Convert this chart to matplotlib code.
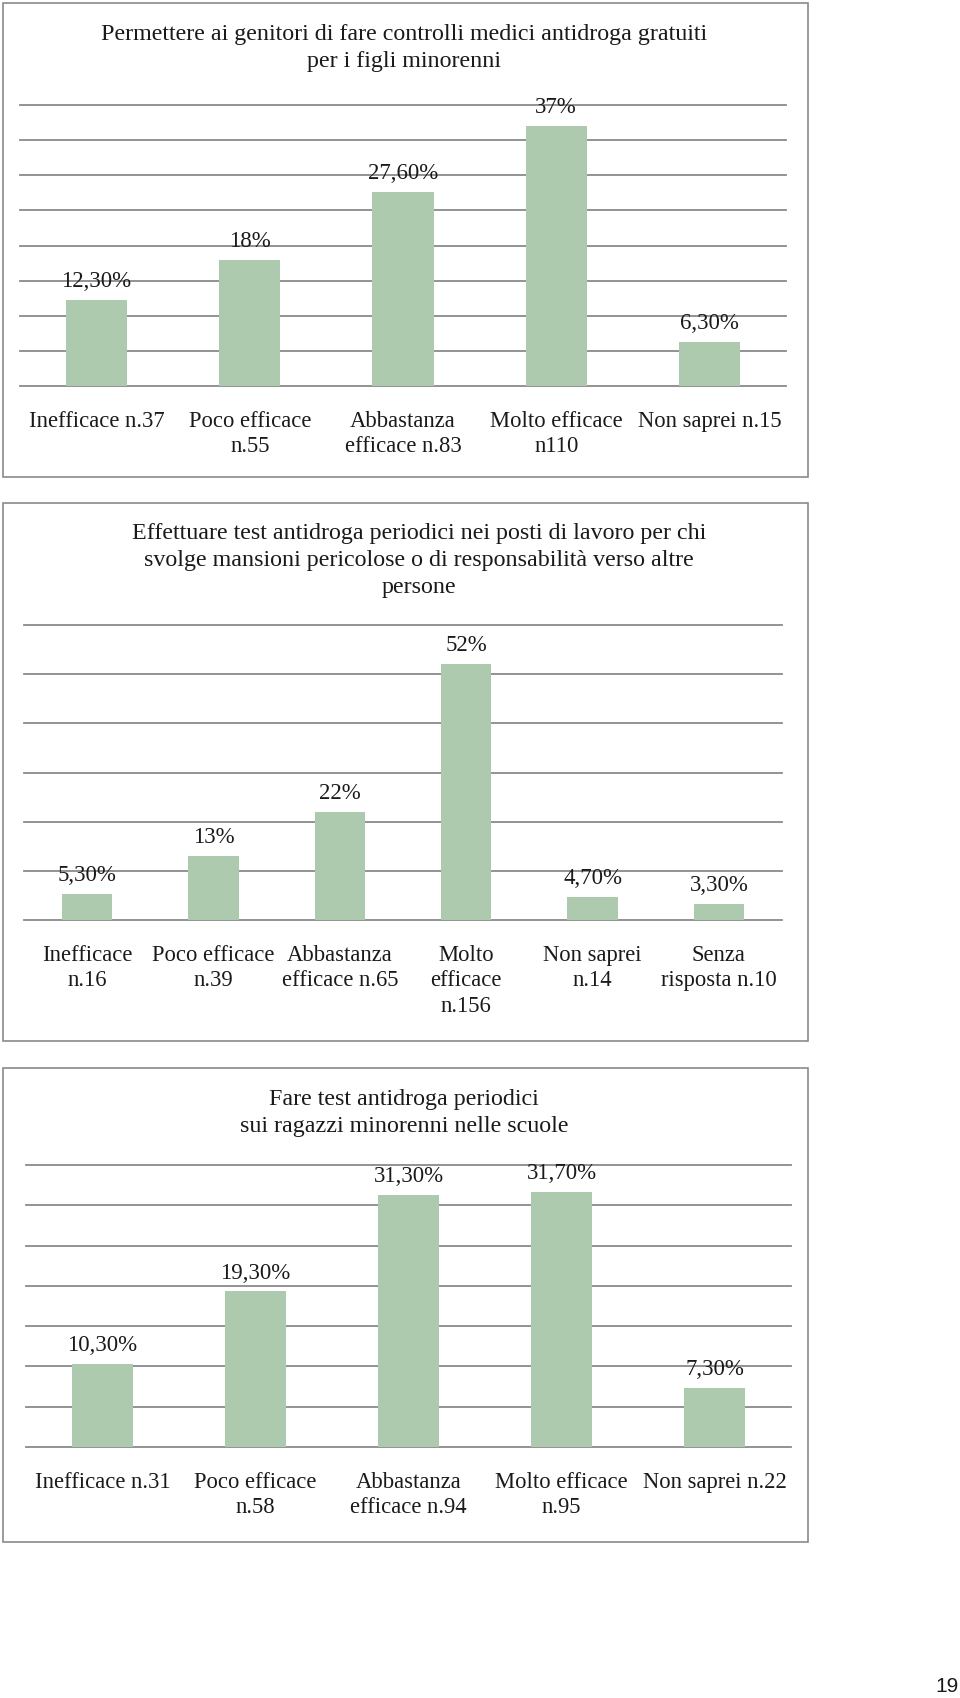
import matplotlib
matplotlib.use("Agg")
import matplotlib.pyplot as plt
from matplotlib.patches import Rectangle

# dati
titolo1 = "Permettere ai genitori di fare controlli medici antidroga gratuiti\nper i figli minorenni"
categorie1 = ["Inefficace n.37", "Poco efficace\nn.55", "Abbastanza\nefficace n.83",
              "Molto efficace\nn110", "Non saprei n.15"]
valori1 = [12.3, 18, 27.6, 37, 6.3]

titolo2 = ("Effettuare test antidroga periodici nei posti di lavoro per chi\n"
           "svolge mansioni pericolose o di responsabilità verso altre\npersone")
categorie2 = ["Inefficace\nn.16", "Poco efficace\nn.39", "Abbastanza\nefficace n.65",
              "Molto\nefficace\nn.156", "Non saprei\nn.14", "Senza\nrisposta n.10"]
valori2 = [5.3, 13, 22, 52, 4.7, 3.3]

titolo3 = "Fare test antidroga periodici\nsui ragazzi minorenni nelle scuole"
categorie3 = ["Inefficace n.31", "Poco efficace\nn.58", "Abbastanza\nefficace n.94",
              "Molto efficace\nn.95", "Non saprei n.22"]
valori3 = [10.3, 19.3, 31.3, 31.7, 7.3]

W, H = 960, 1699
VERDE = "#aecaae"
GRIGIO = "#8a8a8a"
FONT = "Liberation Serif"

fig = plt.figure(figsize=(W / 100, H / 100), dpi=100)
fig.patch.set_facecolor("white")


def fmt(v):
    if float(v).is_integer():
        return "%d%%" % v
    return ("%.2f%%" % v).replace(".", ",")


def pannello(box, area, titolo, titolo_xy, categorie, valori, ymax, passo):
    bx0, by0, bx1, by1 = box
    fig.patches.append(Rectangle((bx0 / W, 1 - by1 / H), (bx1 - bx0) / W, (by1 - by0) / H,
                                 transform=fig.transFigure, fill=False,
                                 edgecolor=GRIGIO, linewidth=1.2))
    x0, y0, x1, y1 = area
    ax = fig.add_axes([x0 / W, 1 - y1 / H, (x1 - x0) / W, (y1 - y0) / H])
    pos = range(len(valori))
    barre = ax.bar(pos, valori, width=0.4, color=VERDE, zorder=3)
    ax.set_xlim(-0.5, len(valori) - 0.5)
    ax.set_ylim(0, ymax)
    ax.set_yticks(range(0, ymax + 1, passo))
    ax.yaxis.grid(True, color=GRIGIO, linewidth=1.3)
    for l in ax.get_ygridlines():
        l.set_clip_on(False)
    ax.set_axisbelow(True)
    for s in ax.spines.values():
        s.set_visible(False)
    ax.set_yticklabels([])
    ax.tick_params(axis="both", length=0)
    ax.set_xticks(list(pos))
    ax.set_xticklabels(categorie, fontsize=16.3, family=FONT, color="#1a1a1a",
                       linespacing=1.3)
    ax.tick_params(axis="x", pad=17)
    for b, v in zip(barre, valori):
        ax.annotate(fmt(v), (b.get_x() + b.get_width() / 2, v), xytext=(0, 14),
                    textcoords="offset points", ha="center", va="center",
                    fontsize=16.5, family=FONT, color="#1a1a1a")
    fig.text(titolo_xy[0] / W, 1 - titolo_xy[1] / H, titolo, ha="center", va="top",
             fontsize=17.3, family=FONT, color="#1a1a1a", linespacing=1.38)


pannello((3, 4, 808, 478), (20, 106, 786, 387), titolo1, (404, 24),
         categorie1, valori1, 40, 5)
pannello((3, 504, 808, 1042), (24, 626, 782, 921), titolo2, (419, 523),
         categorie2, valori2, 60, 10)
pannello((3, 1069, 808, 1543), (26, 1166, 791, 1448), titolo3, (404, 1089),
         categorie3, valori3, 35, 5)

fig.text(947 / W, 1 - 1687 / H, "19", ha="center", va="center", fontsize=15,
         family="Liberation Sans", color="#1a1a1a")

plt.savefig("out.png", dpi=100)
